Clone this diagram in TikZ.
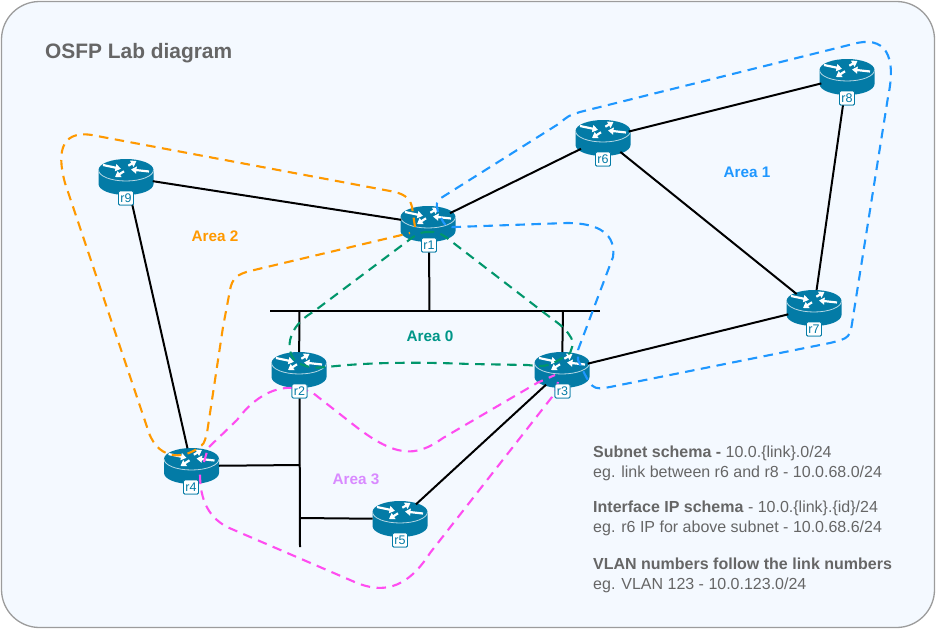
\documentclass[tikz,border=0pt]{standalone}
\usepackage{fontspec}
\setmainfont{Liberation Sans}
\usetikzlibrary{shapes.geometric,arrows.meta}
\definecolor{routerblue}{HTML}{037BA6}
\definecolor{panelbg}{HTML}{F4F9FF}
\definecolor{paneledge}{HTML}{9C9C9C}
\definecolor{greytext}{HTML}{666666}
\definecolor{areaorange}{HTML}{FF9900}
\definecolor{areablue}{HTML}{1E97FF}
\definecolor{areagreen}{HTML}{00966B}
\definecolor{labelgreen}{HTML}{009688}
\definecolor{areapink}{HTML}{FF4DF0}
\definecolor{labelpurple}{HTML}{D98AFF}
\tikzset{
  routernode/.style={ellipse,minimum width=55pt,minimum height=36pt,inner sep=0pt,outer sep=0pt},
  rlabel/.style={draw=routerblue,fill=white,text=routerblue,rounded corners=1.2pt,line width=.9pt,inner sep=0pt,minimum width=15pt,minimum height=14pt,font=\fontsize{12.5}{12.5}\selectfont},
  link/.style={line width=2pt,black},
  area/.style={line width=2.1pt,dash pattern=on 9.5pt off 6.5pt,line cap=butt,line join=round},
  arealabel/.style={font=\fontsize{15.3}{15.3}\selectfont\bfseries},
  note/.style={anchor=north west,align=left,text=greytext,inner sep=0pt,font=\fontsize{16}{19.5}\selectfont},
  routerarrow/.style={white,line width=2.2pt,-{Triangle[width=7pt,length=5.5pt]}},
  routericon/.pic={
    \fill[routerblue] (-27.5,-7) -- (-27.5,7) arc[start angle=180,end angle=0,x radius=27.5,y radius=11] -- (27.5,-7) -- cycle;
    \fill[routerblue] (0,-7) ellipse[x radius=27.5,y radius=11];
    \draw[white!70!routerblue,line width=.8pt] (-27.5,-7) arc[start angle=180,end angle=0,x radius=27.5,y radius=11];
    \draw[routerarrow] (-23,-12) -- (-5,-8.2);
    \draw[routerarrow] (-2,-5.7) -- (-11,0);
    \draw[routerarrow] (2.3,-11.3) -- (10.5,-16);
    \draw[routerarrow] (23,-5.5) -- (5,-7.5);
  }
}
\begin{document}
\begin{tikzpicture}[x=1pt,y=-1pt]
\useasboundingbox (0,0) rectangle (936,629);
\draw[fill=panelbg,draw=paneledge,line width=1.3pt,rounded corners=38pt] (1.5,1.5) rectangle (934.5,627.5);
\node[anchor=west,inner sep=0pt,text=greytext,font=\fontsize{20.9}{20.9}\selectfont\bfseries] (title) at (45,53) {OSFP Lab diagram};

% routers
\foreach \n/\x/\y in {r1/428/224,r2/299/370,r3/562/370,r4/191.5/466,r5/400/519,r6/603/138,r7/814/308,r8/847/77,r9/126/177}{
  \node[routernode] (\n) at (\x,\y) {};
  \pic at (\x,\y) {routericon};
}
% router tags
\node[rlabel] (l1) at (429,245) {r1};
\node[rlabel] (l2) at (299.5,391) {r2};
\node[rlabel] (l3) at (562.5,391) {r3};
\node[rlabel] (l4) at (191,487) {r4};
\node[rlabel] (l5) at (400,540) {r5};
\node[rlabel] (l6) at (603,159) {r6};
\node[rlabel] (l7) at (814,329) {r7};
\node[rlabel] (l8) at (847,98) {r8};
\node[rlabel] (l9) at (126,198) {r9};

% bus points
\coordinate (busL) at (270,311);
\coordinate (busR) at (600,311);
\coordinate (busA) at (429.5,311);
\coordinate (busB) at (299.5,311);
\coordinate (busC) at (563,311);
\coordinate (lowEnd) at (300,547);
\coordinate (lowA) at (300,465);
\coordinate (lowB) at (300,518);

% links
\begin{scope}[link]
\draw (r9) -- (r1);
\draw (r1) -- (r6);
\draw (r6) -- (r8);
\draw (r6) -- (r7);
\draw (r8) -- (r7);
\draw (r7) -- (r3);
\draw (r9) -- (r4);
\draw (busL) -- (busR);
\draw (l1) -- (busA);
\draw (busB) -- (r2);
\draw (busC) -- (r3);
\draw (l2) -- (lowEnd);
\draw (r4) -- (lowA);
\draw (lowB) -- (r5);
\draw (r3) -- (r5);
\end{scope}

% area outlines
\draw[area,areaorange] (415,227) -- (412,207) .. controls (410,197) and (402,193) .. (390,191) -- (97,136) .. controls (62,128) and (56,150) .. (65,183) -- (147,427) .. controls (156,460) and (182,460) .. (198,448) .. controls (204,444) .. (207,433) -- (223,327) -- (230,290) .. controls (232,278) and (238,274) .. (250,271) -- (410,233);
\draw[area,areablue] (438,212) .. controls (436,203) .. (441,198) -- (560,123) .. controls (568,116) .. (580,112) -- (853,44) .. controls (885,35) and (897,55) .. (888,97) -- (853,317) .. controls (850,338) .. (830,343) -- (610,387) .. controls (592,390) .. (578,360) -- (578,350) -- (613,257) .. controls (616,235) and (600,223) .. (567,223) -- (455,227) .. controls (446,227) .. (441,218);
\draw[area,areagreen] (430,232) .. controls (422,232) .. (413,237) -- (313,312) .. controls (282,330) and (285,360) .. (303,365) .. controls (312,368) .. (327,367) .. controls (370,362) and (420,362) .. (470,364) -- (527,365) .. controls (548,367) .. (570,353) .. controls (574,342) .. (568,333) .. controls (562,326) .. (547,315) -- (447,238) .. controls (438,232) .. (430,232);
\draw[area,areapink] (204,462) -- (208,448) -- (237,420) .. controls (258,392) and (285,380) .. (313,393) -- (350,422) .. controls (395,458) and (415,458) .. (443,438) -- (537,383) -- (555,375);
\draw[area,areapink] (558,382) .. controls (556,390) .. (552,397) -- (430,553) .. controls (405,592) and (380,592) .. (357,583) -- (227,527) .. controls (205,515) and (200,495) .. (200,473);

% tags on top of the outlines
\foreach \n/\x/\y in {r1/429/245,r2/299.5/391,r3/562.5/391,r4/191/487,r5/400/540,r6/603/159,r7/814/329,r8/847/98,r9/126/198}{
  \node[rlabel] at (\x,\y) {\n};
}

\node[arealabel,text=areablue] (a1) at (747,172) {Area 1};
\node[arealabel,text=areaorange] (a2) at (215,236) {Area 2};
\node[arealabel,text=labelgreen] (a0) at (430,336) {Area 0};
\node[arealabel,text=labelpurple] (a3) at (356,479) {Area 3};

\node[note] (n1) at (593,446) {\textbf{Subnet schema -} 10.0.\{link\}.0/24\\eg. link between r6 and r8 - 10.0.68.0/24};
\node[note] (n2) at (593,501) {\textbf{Interface IP schema} - 10.0.\{link\}.\{id\}/24\\eg. r6 IP for above subnet - 10.0.68.6/24};
\node[note] (n3) at (593,558) {\textbf{VLAN numbers follow the link numbers}\\eg. VLAN 123 - 10.0.123.0/24};
\end{tikzpicture}
\end{document}
